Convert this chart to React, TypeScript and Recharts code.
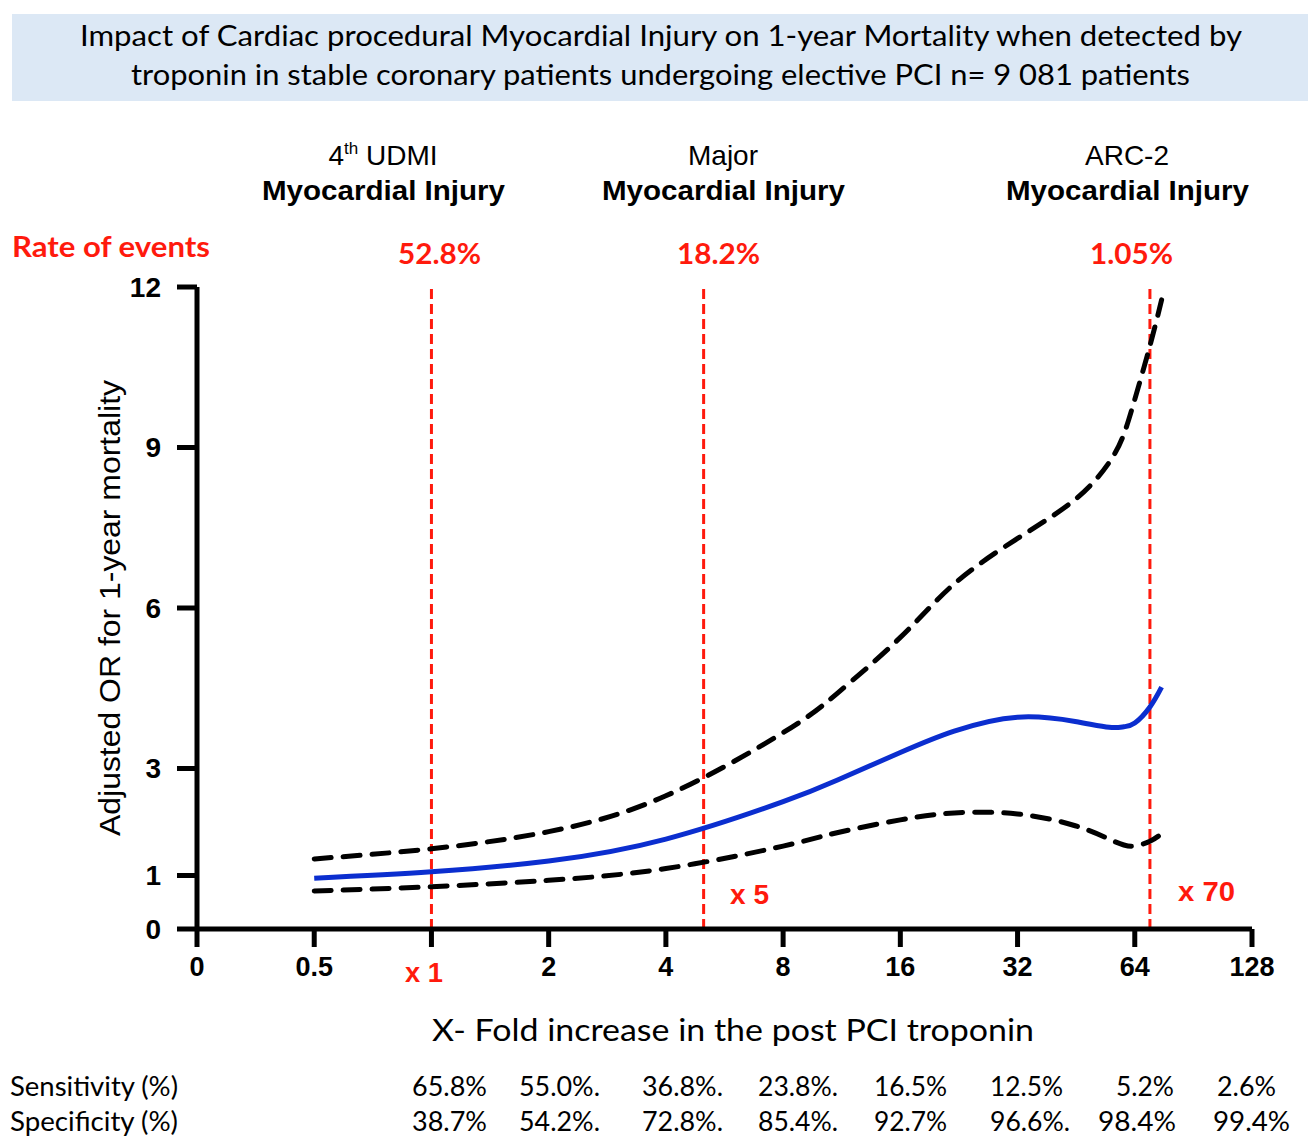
import { LineChart, Line, XAxis, YAxis, ReferenceLine } from "recharts";

// x-fold increase of post-PCI troponin where the curves were read
const FOLDS = [0.5, 1, 2, 4, 8, 11, 16, 22, 32, 45, 55, 60, 64, 70, 75];
const OR_MEAN = [0.95, 1.07, 1.27, 1.68, 2.38, 2.78, 3.3, 3.7, 3.96, 3.88, 3.77, 3.78, 3.85, 4.15, 4.52];
const OR_UPPER = [1.31, 1.5, 1.82, 2.49, 3.67, 4.4, 5.45, 6.45, 7.3, 8.03, 8.72, 9.25, 9.9, 10.9, 11.76];
const OR_LOWER = [0.71, 0.79, 0.91, 1.13, 1.55, 1.8, 2.04, 2.17, 2.15, 1.93, 1.68, 1.57, 1.55, 1.64, 1.78];

// the "1" position carries the red "x 1" tag instead of a tick label
const X_TICK_LABELS = ["0", "0.5", "", "2", "4", "8", "16", "32", "64", "128"];
const Y_TICKS = [0, 1, 3, 6, 9, 12];

const THRESHOLDS = [1, 5, 70];
const THRESHOLD_TAGS = ["x 1", "x 5", "x 70"];
const EVENT_RATES = ["52.8%", "18.2%", "1.05%"];
const DEFINITIONS = ["4th UDMI", "Major", "ARC-2"];

const SENSITIVITY = ["65.8%", "55.0%.", "36.8%.", "23.8%.", "16.5%", "12.5%", "5.2%", "2.6%"];
const SPECIFICITY = ["38.7%", "54.2%.", "72.8%.", "85.4%.", "92.7%", "96.6%.", "98.4%", "99.4%"];

// layout of the annotation text (pixels)
const DEF_X = [383, 723, 1127];
const RATE_SPAN = [[398, 481], [677, 760], [1090, 1173]];
const TAG_POS = [[405, 982, 38], [730, 904, 39], [1178, 901, 57]];
const SENS_SPAN = [[412, 487], [519, 600], [642, 723], [758, 838], [874, 947], [990, 1063], [1116, 1174], [1217, 1276]];
const SPEC_SPAN = [[412, 487], [519, 600], [642, 723], [758, 838], [874, 947], [990, 1070], [1098, 1176], [1213, 1290]];

const pos = (fold: number) => Math.log2(fold) + 2;

const data = FOLDS.map((f, i) => ({
  pos: pos(f),
  mean: OR_MEAN[i],
  upper: OR_UPPER[i],
  lower: OR_LOWER[i],
}));

const ARIAL = "Arial, 'Liberation Sans', Helvetica, sans-serif";
const NARROW = "Lato, 'Open Sans', sans-serif";
const RED = "#ff1a0d";

export default function App() {
  return (
    <div style={{ position: "absolute", left: 0, top: 0, width: 1308, height: 1138, background: "#fff" }}>
      <LineChart
        width={1308}
        height={1138}
        data={data}
        margin={{ top: 287, right: 56, bottom: 149, left: 117 }}
      >
        <XAxis
          type="number"
          dataKey="pos"
          domain={[0, 9]}
          ticks={X_TICK_LABELS.map((_, i) => i)}
          tickFormatter={(v: number) => X_TICK_LABELS[v] ?? ""}
          height={60}
          tickSize={18}
          tickMargin={10}
          interval={0}
          axisLine={{ stroke: "#000", strokeWidth: 5 }}
          tickLine={{ stroke: "#000", strokeWidth: 5 }}
          tick={{ fill: "#000", fontSize: 27, fontWeight: 700, style: { fontFamily: ARIAL } }}
          allowDataOverflow
        />
        <YAxis
          type="number"
          domain={[0, 12]}
          ticks={Y_TICKS}
          interval={0}
          width={80}
          tickSize={20}
          tickMargin={16}
          axisLine={{ stroke: "#000", strokeWidth: 5 }}
          tickLine={{ stroke: "#000", strokeWidth: 5 }}
          tick={{ fill: "#000", fontSize: 28, fontWeight: 700, style: { fontFamily: ARIAL } }}
        />
        {THRESHOLDS.map((t) => (
          <ReferenceLine
            key={t}
            x={pos(t)}
            stroke={RED}
            strokeWidth={3}
            strokeDasharray="10 5"
          />
        ))}
        <Line
          type="natural"
          dataKey="upper"
          stroke="#000"
          strokeWidth={5}
          strokeDasharray="17 12"
          strokeLinecap="round"
          dot={false}
          isAnimationActive={false}
        />
        <Line
          type="natural"
          dataKey="lower"
          stroke="#000"
          strokeWidth={5}
          strokeDasharray="17 12"
          strokeLinecap="round"
          dot={false}
          isAnimationActive={false}
        />
        <Line
          type="natural"
          dataKey="mean"
          stroke="#0b2ecf"
          strokeWidth={5}
          dot={false}
          isAnimationActive={false}
        />
      </LineChart>

      <svg
        width={1308}
        height={1138}
        style={{ position: "absolute", left: 0, top: 0, pointerEvents: "none" }}
      >
        <rect x={12} y={14} width={1296} height={87} fill="#dce8f5" />
        <g style={{ fontFamily: NARROW }} fill="#000" fontSize={28}>
          <text x={80} y={46} textLength={1162} lengthAdjust="spacingAndGlyphs">
            Impact of Cardiac procedural Myocardial Injury on 1-year Mortality when detected by
          </text>
          <text x={131} y={85} textLength={1059} lengthAdjust="spacingAndGlyphs">
            troponin in stable coronary patients undergoing elective PCI n= 9 081 patients
          </text>
        </g>

        {DEFINITIONS.map((d, i) => (
          <g key={d} style={{ fontFamily: ARIAL }} fill="#000">
            <text x={DEF_X[i]} y={165} fontSize={28} textAnchor="middle">
              {d === "4th UDMI" ? (
                <>
                  4<tspan fontSize={17} dy={-11}>th</tspan>
                  <tspan dy={11}> UDMI</tspan>
                </>
              ) : (
                d
              )}
            </text>
            <text x={DEF_X[i] - 121} y={200} fontSize={28} fontWeight={700} textLength={243} lengthAdjust="spacingAndGlyphs">
              Myocardial Injury
            </text>
          </g>
        ))}

        <g style={{ fontFamily: NARROW }} fontWeight={700} fill={RED} fontSize={29}>
          <text x={12} y={257} textLength={198} lengthAdjust="spacingAndGlyphs">
            Rate of events
          </text>
          {EVENT_RATES.map((r, i) => (
            <text
              key={r}
              x={RATE_SPAN[i][0]}
              y={264}
              textLength={RATE_SPAN[i][1] - RATE_SPAN[i][0]}
              lengthAdjust="spacingAndGlyphs"
            >
              {r}
            </text>
          ))}
        </g>
        <g style={{ fontFamily: ARIAL }} fontWeight={700} fill={RED} fontSize={28}>
          {THRESHOLD_TAGS.map((t, i) => (
            <text
              key={t}
              x={TAG_POS[i][0]}
              y={TAG_POS[i][1]}
              textLength={TAG_POS[i][2]}
              lengthAdjust="spacingAndGlyphs"
            >
              {t}
            </text>
          ))}
        </g>

        <text
          transform="translate(120 608) rotate(-90)"
          textAnchor="middle"
          style={{ fontFamily: ARIAL }}
          fontSize={30}
          fill="#000"
          textLength={456}
          lengthAdjust="spacingAndGlyphs"
        >
          Adjusted OR for 1-year mortality
        </text>

        <g style={{ fontFamily: NARROW }} fill="#000">
          <text x={432} y={1041} fontSize={31} textLength={602} lengthAdjust="spacingAndGlyphs">
            X- Fold increase in the post PCI troponin
          </text>
          <text x={10} y={1096} fontSize={27} textLength={168} lengthAdjust="spacingAndGlyphs">
            Sensitivity (%)
          </text>
          <text x={10} y={1131} fontSize={27} textLength={168} lengthAdjust="spacingAndGlyphs">
            Specificity (%)
          </text>
          {SENSITIVITY.map((s, i) => (
            <text
              key={"se" + i}
              x={SENS_SPAN[i][0]}
              y={1096}
              fontSize={27}
              textLength={SENS_SPAN[i][1] - SENS_SPAN[i][0]}
              lengthAdjust="spacingAndGlyphs"
            >
              {s}
            </text>
          ))}
          {SPECIFICITY.map((s, i) => (
            <text
              key={"sp" + i}
              x={SPEC_SPAN[i][0]}
              y={1131}
              fontSize={27}
              textLength={SPEC_SPAN[i][1] - SPEC_SPAN[i][0]}
              lengthAdjust="spacingAndGlyphs"
            >
              {s}
            </text>
          ))}
        </g>
      </svg>
    </div>
  );
}
